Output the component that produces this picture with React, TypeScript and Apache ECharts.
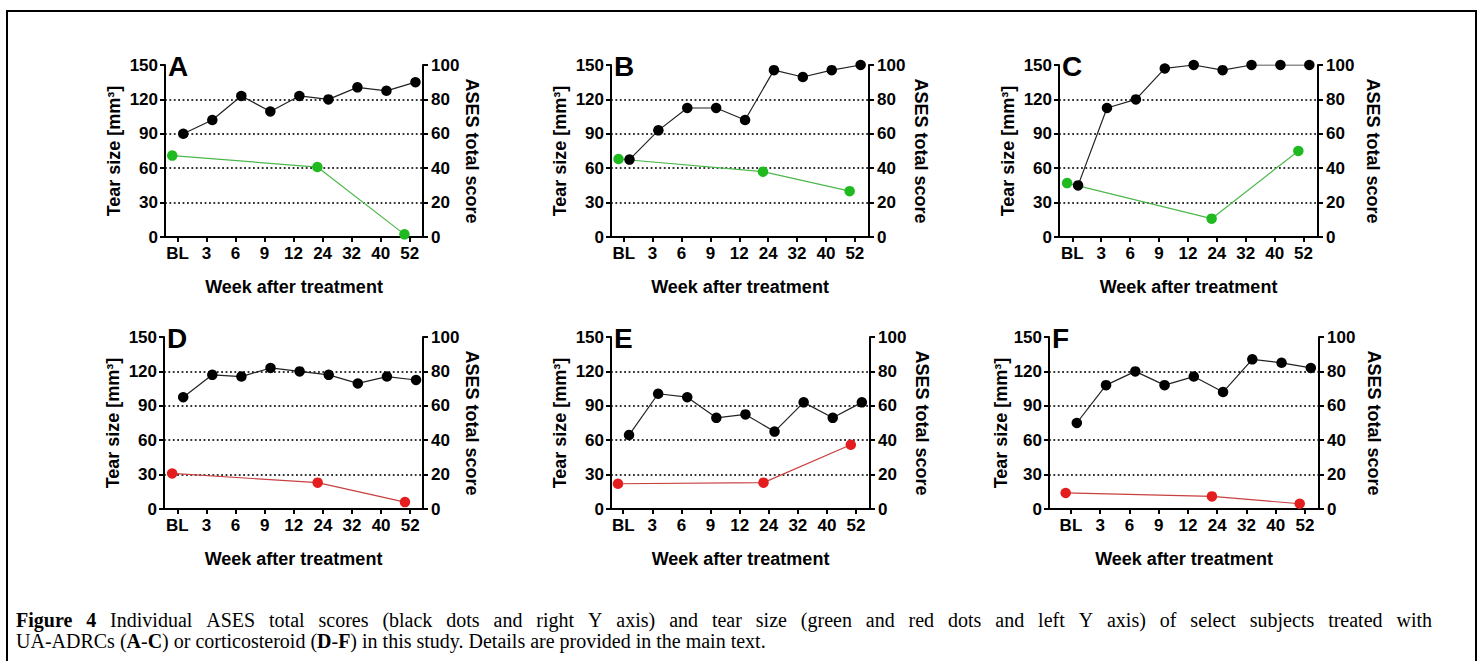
import React, { useEffect, useRef } from "react";
import * as echarts from "echarts";

// ---------- data ----------
const weeks = ["BL", "3", "6", "9", "12", "24", "32", "40", "52"];
const tearWeekIdx = [0, 5, 8]; // BL, 24, 52
const panelLetters = ["A", "B", "C", "D", "E", "F"];

const asesA = [60, 68, 82, 73, 82, 80, 87, 85, 90];
const tearA = [71, 61, 2.3];
const asesB = [45, 62, 75, 75, 68, 97, 93, 97, 100];
const tearB = [68, 57, 40];
const asesC = [30, 75, 80, 98, 100, 97, 100, 100, 100];
const tearC = [47, 16, 75];
const asesD = [65, 78, 77, 82, 80, 78, 73, 77, 75];
const tearD = [31, 23, 6];
const asesE = [43, 67, 65, 53, 55, 45, 62, 53, 62];
const tearE = [22, 23, 56];
const asesF = [50, 72, 80, 72, 77, 68, 87, 85, 82];
const tearF = [14, 11, 4.6];

const asesAll = [asesA, asesB, asesC, asesD, asesE, asesF];
const tearAll = [tearA, tearB, tearC, tearD, tearE, tearF];

const leftAxisMax = 150;
const leftAxisStep = 30;
const rightAxisMax = 100;
const rightAxisStep = 20;

const xTitle = "Week after treatment";
const leftTitle = "Tear size [mm³]";
const rightTitle = "ASES total score";

const captionLine1Bold = "Figure 4";
const captionLine1 =
  "Individual ASES total scores (black dots and right Y axis) and tear size (green and red dots and left Y axis) of select subjects treated with";

// ---------- layout / style ----------
const layouts = [
  { left: 165, right: 423, top: 65, bottom: 237, xMin: -0.43, xMax: 8.46, lGap: 42, rGap: 40 },
  { left: 611, right: 869, top: 65, bottom: 237, xMin: -0.44, xMax: 8.49, lGap: 42, rGap: 43 },
  { left: 1059, right: 1318, top: 65, bottom: 237, xMin: -0.46, xMax: 8.5, lGap: 42, rGap: 46 },
  { left: 164, right: 423, top: 337, bottom: 509, xMin: -0.46, xMax: 8.44, lGap: 42, rGap: 40 },
  { left: 611, right: 870, top: 337, bottom: 509, xMin: -0.42, xMax: 8.48, lGap: 42, rGap: 43 },
  { left: 1049, right: 1319, top: 337, bottom: 509, xMin: -0.75, xMax: 8.48, lGap: 32, rGap: 46 },
];
const tearColors = [
  { dot: "#1fba1f", line: "#4cb84c" },
  { dot: "#1fba1f", line: "#4cb84c" },
  { dot: "#1fba1f", line: "#4cb84c" },
  { dot: "#e41e1e", line: "#c84040" },
  { dot: "#e41e1e", line: "#c84040" },
  { dot: "#e41e1e", line: "#c84040" },
];
const asesOffset = 0.2;
const tearOffset = -0.18;

const SANS = "'Liberation Sans', Arial, Helvetica, sans-serif";
const SERIF = "'Liberation Serif', 'Times New Roman', serif";
const CAPTION_SIZE = 20;
const CAPTION_LEFT = 16;
const CAPTION_RIGHT = 1432;

const tickFont = { fontSize: 17, fontWeight: "bold" as const, color: "#000", fontFamily: SANS };
const titleFont = { fontSize: 18, fontWeight: "bold" as const, color: "#000", fontFamily: SANS };

function measure(ctx: CanvasRenderingContext2D | null, text: string, bold: boolean) {
  if (!ctx) return text.length * CAPTION_SIZE * 0.45;
  ctx.font = `${bold ? "bold " : ""}${CAPTION_SIZE}px ${SERIF}`;
  return ctx.measureText(text).width;
}

function buildOption() {
  const grid: any[] = [];
  const xAxis: any[] = [];
  const yAxis: any[] = [];
  const series: any[] = [];
  const graphic: any[] = [];

  const tickIdx = weeks.map((_, i) => i);

  layouts.forEach((L, k) => {
    grid.push({
      left: L.left,
      top: L.top,
      width: L.right - L.left,
      height: L.bottom - L.top,
      containLabel: false,
    });
    xAxis.push({
      type: "value",
      gridIndex: k,
      min: L.xMin,
      max: L.xMax,
      axisLine: { show: true, onZero: false, lineStyle: { color: "#000", width: 2 } },
      axisTick: {
        show: true,
        customValues: tickIdx,
        length: 5,
        lineStyle: { color: "#000", width: 2 },
      },
      axisLabel: {
        show: true,
        customValues: tickIdx,
        formatter: (v: number) => weeks[Math.round(v)] ?? "",
        margin: 8,
        ...tickFont,
      },
      splitLine: { show: false },
      name: xTitle,
      nameLocation: "middle",
      nameGap: 41,
      nameTextStyle: titleFont,
    });
    yAxis.push({
      type: "value",
      gridIndex: k,
      position: "left",
      min: 0,
      max: leftAxisMax,
      interval: leftAxisStep,
      axisLine: { show: true, onZero: false, lineStyle: { color: "#000", width: 2 } },
      axisTick: { show: true, length: 5, lineStyle: { color: "#000", width: 2 } },
      axisLabel: { margin: 7, ...tickFont },
      splitLine: {
        show: true,
        showMinLine: false,
        showMaxLine: false,
        lineStyle: { color: "#333", width: 1.8, type: [1.8, 2.6] },
      },
      name: leftTitle,
      nameLocation: "middle",
      nameRotate: 90,
      nameGap: L.lGap,
      nameTextStyle: titleFont,
    });
    yAxis.push({
      type: "value",
      gridIndex: k,
      position: "right",
      min: 0,
      max: rightAxisMax,
      interval: rightAxisStep,
      axisLine: { show: true, onZero: false, lineStyle: { color: "#000", width: 2 } },
      axisTick: { show: true, length: 5, lineStyle: { color: "#000", width: 2 } },
      axisLabel: { margin: 8, ...tickFont },
      splitLine: { show: false },
      name: rightTitle,
      nameLocation: "middle",
      nameRotate: -90,
      nameGap: L.rGap,
      nameTextStyle: titleFont,
    });

    const tear = tearAll[k];
    series.push({
      type: "line",
      xAxisIndex: k,
      yAxisIndex: 2 * k,
      data: tearWeekIdx.map((wi, j) => [wi + tearOffset, tear[j]]),
      symbol: "circle",
      symbolSize: 10.5,
      itemStyle: { color: tearColors[k].dot, borderWidth: 0 },
      lineStyle: { color: tearColors[k].line, width: 1.2 },
      z: 3,
    });
    const ases = asesAll[k];
    series.push({
      type: "line",
      xAxisIndex: k,
      yAxisIndex: 2 * k + 1,
      data: ases.map((v, i) => [i + asesOffset, v]),
      symbol: "circle",
      symbolSize: 10.5,
      itemStyle: { color: "#000", borderWidth: 0 },
      lineStyle: { color: "#222", width: 1.2 },
      z: 4,
    });

    graphic.push({
      type: "text",
      x: L.left + 3,
      y: L.top + 1,
      style: {
        text: panelLetters[k],
        fontSize: 28,
        fontWeight: "bold",
        fontFamily: SANS,
        fill: "#000",
        align: "left",
        verticalAlign: "middle",
      },
      z: 10,
    });
  });

  graphic.push({
    type: "rect",
    shape: { x: 7, y: 11, width: 1469, height: 700 },
    style: { fill: "none", stroke: "#000", lineWidth: 2 },
    silent: true,
    z: 0,
  });

  // caption line 1: justified (words spread across the full width)
  const ctx = document.createElement("canvas").getContext("2d");
  const words1 = [
    ...captionLine1Bold.split(" ").map((t) => ({ t, b: true })),
    ...captionLine1.split(" ").map((t) => ({ t, b: false })),
  ];
  const widths = words1.map((w) => measure(ctx, w.t, w.b));
  const total = widths.reduce((a, b) => a + b, 0);
  const gap = (CAPTION_RIGHT - CAPTION_LEFT - total) / (words1.length - 1);
  let cx = CAPTION_LEFT;
  words1.forEach((w, i) => {
    graphic.push({
      type: "text",
      x: cx,
      y: 620,
      style: {
        text: w.t,
        fontSize: CAPTION_SIZE,
        fontFamily: SERIF,
        fontWeight: w.b ? "bold" : "normal",
        fill: "#000",
        align: "left",
        verticalAlign: "middle",
      },
      z: 10,
    });
    cx += widths[i] + gap;
  });

  const richStyles = {
    b: { fontSize: CAPTION_SIZE, fontFamily: SERIF, fontWeight: "bold", fill: "#000" },
    n: { fontSize: CAPTION_SIZE, fontFamily: SERIF, fontWeight: "normal", fill: "#000" },
  };
  graphic.push({
    type: "text",
    x: CAPTION_LEFT,
    y: 641,
    style: {
      text: "{n|UA-ADRCs (}{b|A}{n|-}{b|C}{n|) or corticosteroid (}{b|D}{n|-}{b|F}{n|) in this study. Details are provided in the main text.}",
      rich: richStyles,
      fontSize: CAPTION_SIZE,
      fontFamily: SERIF,
      fill: "#000",
      align: "left",
      verticalAlign: "middle",
    },
    z: 10,
  });

  return {
    animation: false,
    backgroundColor: "#fff",
    grid,
    xAxis,
    yAxis,
    series,
    graphic,
  };
}

export default function App() {
  const ref = useRef<HTMLDivElement>(null);
  useEffect(() => {
    if (!ref.current) return;
    const chart = echarts.init(ref.current, undefined, { renderer: "svg" });
    chart.setOption(buildOption() as any);
    return () => chart.dispose();
  }, []);
  return (
    <div
      ref={ref}
      style={{ position: "fixed", left: 0, top: 0, width: 1480, height: 661, background: "#fff" }}
    />
  );
}
